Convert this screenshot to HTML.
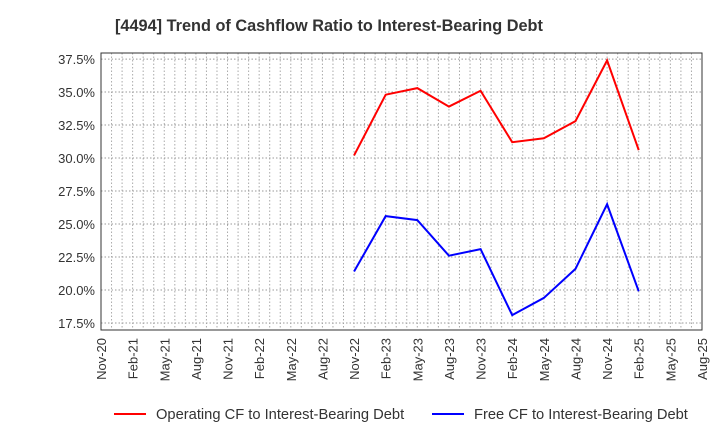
<!DOCTYPE html>
<html><head><meta charset="utf-8"><style>
body{margin:0;background:#fff;font-family:"Liberation Sans",Arial,sans-serif;}
</style></head><body>
<svg width="720" height="440" xmlns="http://www.w3.org/2000/svg" id="chart">
<text x="115" y="31" font-size="16.3" font-weight="bold" fill="#333">[4494]  Trend of Cashflow Ratio to Interest-Bearing Debt</text>
<g id="grid"></g><g id="axes"></g><g id="series"></g>
<g>
<line x1="114" y1="414" x2="146" y2="414" stroke="#f00" stroke-width="2"/>
<text x="156" y="419" font-size="14.7" fill="#333">Operating CF to Interest-Bearing Debt</text>
<line x1="432" y1="414" x2="464" y2="414" stroke="#00f" stroke-width="2"/>
<text x="474" y="419" font-size="14.7" fill="#333">Free CF to Interest-Bearing Debt</text>
</g>
</svg>
<script>
const xLabels=["Nov-20","Feb-21","May-21","Aug-21","Nov-21","Feb-22","May-22","Aug-22","Nov-22","Feb-23","May-23","Aug-23","Nov-23","Feb-24","May-24","Aug-24","Nov-24","Feb-25","May-25","Aug-25"];
const yTicks=[17.5,20.0,22.5,25.0,27.5,30.0,32.5,35.0,37.5];
const operatingCF=[null,null,null,null,null,null,null,null,30.2,34.8,35.3,33.9,35.1,31.2,31.5,32.8,37.4,30.6,null,null];
const freeCF=[null,null,null,null,null,null,null,null,21.4,25.6,25.3,22.6,23.1,18.1,19.4,21.6,26.5,19.9,null,null];
const L=101,R=702,T=53,B=330,yMin=16.97,yMax=37.96;
const NS="http://www.w3.org/2000/svg";
const x=i=>L+(R-L)*i/(xLabels.length-1);
const y=v=>B-(v-yMin)/(yMax-yMin)*(B-T);
function mk(tag,attrs,parent){const e=document.createElementNS(NS,tag);for(const k in attrs)e.setAttribute(k,attrs[k]);document.getElementById(parent).appendChild(e);return e;}
const nMonths=(xLabels.length-1)*3;
for(let m=1;m<nMonths;m++){const xx=L+(R-L)*m/nMonths;
const g=mk("line",{x1:xx,x2:xx,y1:T,y2:B,stroke:"#aaa","stroke-dasharray":"1.5,2","stroke-width":1},"grid");

}
yTicks.forEach(v=>{const g=mk("line",{x1:L,x2:R,y1:y(v),y2:y(v),stroke:"#999","stroke-dasharray":"1.5,2","stroke-width":1},"grid");


const t=mk("text",{x:L-6,y:y(v)+5,"text-anchor":"end","font-size":13,fill:"#333"},"axes");t.textContent=v.toFixed(1)+"%";

});
const fr=mk("rect",{x:L,y:T,width:R-L,height:B-T,fill:"none",stroke:"#333","stroke-width":1},"axes");


xLabels.forEach((l,i)=>{const t=mk("text",{transform:`translate(${x(i)+5},${B+8}) rotate(-90)`,"text-anchor":"end","font-size":13,fill:"#333"},"axes");t.textContent=l;

});
function line(data,color,name){let d="";data.forEach((v,i)=>{if(v==null)return;d+=(d?"L":"M")+x(i)+","+y(v);});
const p=mk("path",{d:d,fill:"none",stroke:color,"stroke-width":2},"series");

}
line(operatingCF,"#f00","operating-cf-line");
line(freeCF,"#00f","free-cf-line");
</script>
</body></html>
